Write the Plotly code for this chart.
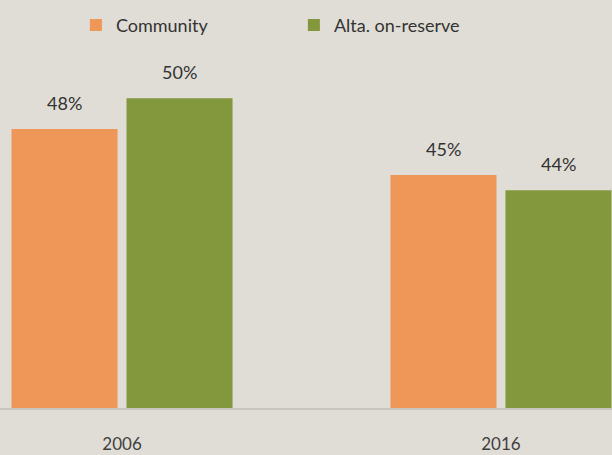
import plotly.graph_objects as go

years = ["2006", "2016"]
community = [48, 45]
on_reserve = [50, 44]
series_names = ["Community", "Alta. on-reserve"]

BG = "#E0DDD6"
ORANGE = "#EE9759"
GREEN = "#83983D"
BARGAP = 0.393
GROUPGAP = 0.078

x = list(range(len(years)))

fig = go.Figure()
fig.add_trace(go.Bar(x=x, y=community, name=series_names[0],
                     marker=dict(color=ORANGE, line=dict(width=0))))
fig.add_trace(go.Bar(x=x, y=on_reserve, name=series_names[1],
                     marker=dict(color=GREEN, line=dict(width=0))))

# value labels above each bar
half = (1 - BARGAP) / 4
for vals, off in [(community, -half), (on_reserve, half)]:
    for xi, v in zip(x, vals):
        fig.add_annotation(x=xi + off, y=v, xref="x", yref="y",
                           text=f"{v}%", showarrow=False,
                           yanchor="bottom", yshift=13,
                           font=dict(size=18, color="#333333"))

fig.update_layout(
    width=612, height=455,
    margin=dict(l=0, r=0, t=60, b=47, autoexpand=False),
    paper_bgcolor=BG, plot_bgcolor=BG,
    font=dict(family="Lato, Open Sans, sans-serif", color="#333333"),
    barmode="group", bargap=BARGAP, bargroupgap=GROUPGAP,
    showlegend=True,
    legend=dict(orientation="h", x=0.124, xanchor="left",
                y=1.1, yanchor="middle",
                entrywidth=173, entrywidthmode="pixels",
                font=dict(size=18, color="#333333"),
                bgcolor="rgba(0,0,0,0)"),
    xaxis=dict(range=[-0.322, 1.293], tickvals=x, ticktext=years,
               showgrid=False, zeroline=False, showline=True,
               linecolor="#C9C6BF", linewidth=2,
               ticks="", ticklabelstandoff=20, automargin=False,
               tickfont=dict(size=17, color="#404040")),
    yaxis=dict(range=[29.8, 52.5], visible=False, showgrid=False,
               automargin=False),
)

# page body has a default 8px margin; drop it so the chart fills the window
fig.write_html("out.html", config={"displayModeBar": False},
               post_script="document.body.style.margin='0';")
